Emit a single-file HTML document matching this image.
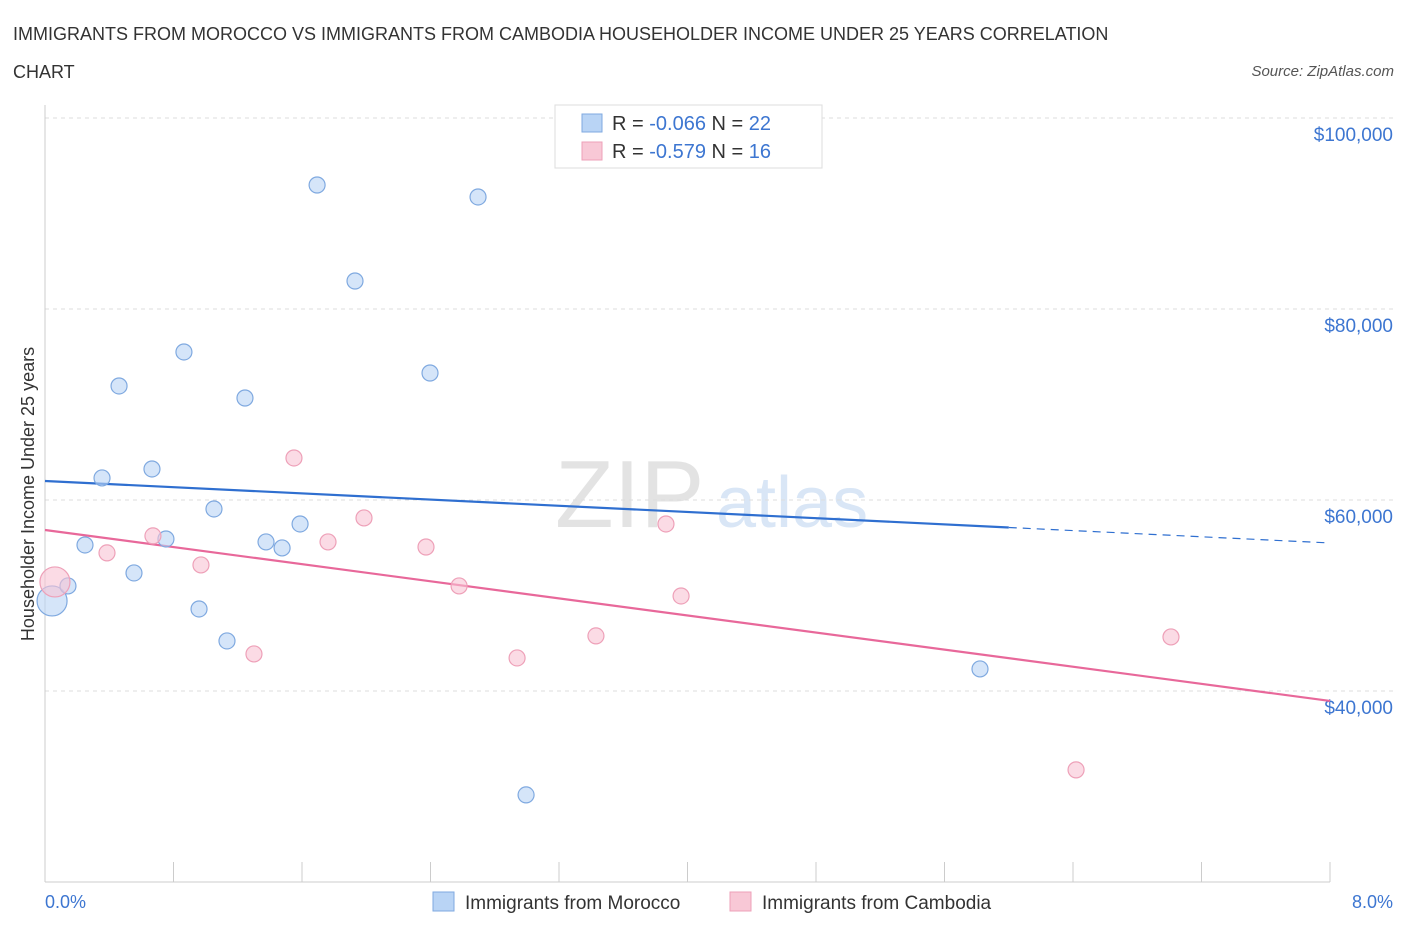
<!DOCTYPE html>
<html><head><meta charset="utf-8">
<style>
body{margin:0;background:#fff;font-family:"Liberation Sans",sans-serif;}
svg text{font-family:"Liberation Sans",sans-serif;}
</style></head>
<body>
<svg id="chart" width="1406" height="930" xmlns="http://www.w3.org/2000/svg">
<text x="13" y="40" font-size="18" fill="#333">IMMIGRANTS FROM MOROCCO VS IMMIGRANTS FROM CAMBODIA HOUSEHOLDER INCOME UNDER 25 YEARS CORRELATION</text>
<text x="13" y="78" font-size="18" fill="#333">CHART</text>
<text x="1394" y="76" font-size="15" font-style="italic" fill="#555" text-anchor="end">Source: ZipAtlas.com</text>
<text x="555" y="527" font-size="96" font-family="Liberation Serif" fill="#ddd" opacity="0.8">ZIP</text>
<text x="716" y="527" font-size="72" fill="#c9dcf3" opacity="0.7">atlas</text>
<g id="grid"></g>
<g id="axes"></g>
<g id="lines"></g>
<g id="points"></g>
<text transform="translate(34,494) rotate(-90)" font-size="18" fill="#333" text-anchor="middle">Householder Income Under 25 years</text>
<text x="45" y="908" font-size="18" fill="#3d76d1">0.0%</text>
<text x="1393" y="908" font-size="18" fill="#3d76d1" text-anchor="end">8.0%</text>
<g>
<rect x="555" y="105" width="267" height="63" fill="#fff" stroke="#ddd"/>
<rect x="582" y="114" width="20" height="18" fill="#b9d4f5" stroke="#7fa9e0"/>
<rect x="582" y="142" width="20" height="18" fill="#f8c8d6" stroke="#eea0b8"/>
<text x="612" y="130" font-size="20" fill="#333">R = <tspan fill="#3d76d1">-0.066</tspan>   N = <tspan fill="#3d76d1">22</tspan></text>
<text x="612" y="158" font-size="20" fill="#333">R =  <tspan fill="#3d76d1">-0.579</tspan>   N =  <tspan fill="#3d76d1">16</tspan></text>
</g>
<g>
<rect x="433" y="892" width="21" height="19" fill="#b9d4f5" stroke="#7fa9e0"/>
<text x="465" y="909" font-size="19" fill="#333">Immigrants from Morocco</text>
<rect x="730" y="892" width="21" height="19" fill="#f8c8d6" stroke="#eea0b8"/>
<text x="762" y="909" font-size="19" fill="#333">Immigrants from Cambodia</text>
</g>
</svg>
<script>
const yTicks=[40000,60000,80000,100000];
const yTickLabels=["$40,000","$60,000","$80,000","$100,000"];
const moroccoX=[0.044,0.143,0.249,0.355,0.461,0.554,0.666,0.753,0.865,0.959,1.052,1.133,1.245,1.376,1.476,1.588,1.694,1.930,2.397,2.696,2.995,5.821];
const moroccoY=[49430,51000,55290,62310,71940,52360,63250,55920,75500,48590,59060,45240,70680,55610,54980,57490,92985,82930,73300,91730,29120,42310];
const cambodiaX=[0.062,0.386,0.672,0.971,1.301,1.550,1.762,1.986,2.372,2.578,2.939,3.430,3.866,3.960,6.419,7.010];
const cambodiaY=[51420,54460,56240,53200,43880,64400,55610,58120,55080,51000,43460,45770,57490,49950,31740,45660];
const moroccoTrend=[61990,55500];
const cambodiaTrend=[56860,38960];
const NS="http://www.w3.org/2000/svg";
const X=v=>45+v/8*1285;
const Y=v=>118+(100000-v)/20000*191;
function mk(tag,attrs,parent){const e=document.createElementNS(NS,tag);for(const k in attrs)e.setAttribute(k,attrs[k]);document.getElementById(parent).appendChild(e);return e;}
yTicks.forEach((t,i)=>{
 const l=mk('line',{x1:45,x2:1393,y1:Y(t),y2:Y(t),stroke:'#ddd','stroke-dasharray':'4,4'},'grid');
 
 
 const tx=mk('text',{x:1393,y:Y(t)+23,'font-size':19,fill:'#3d76d1','text-anchor':'end'},'grid');
 tx.textContent=yTickLabels[i];
 
 
});
const ax=mk('line',{x1:45,x2:1330,y1:882,y2:882,stroke:'#ccc'},'axes');


const ay=mk('line',{x1:45,x2:45,y1:105,y2:882,stroke:'#ccc'},'axes');


for(let i=1;i<=10;i++){
 const t=mk('line',{x1:X(i*0.8),x2:X(i*0.8),y1:862,y2:882,stroke:'#ccc'},'axes');
 
 
}
const mt=v=>moroccoTrend[0]+(moroccoTrend[1]-moroccoTrend[0])*v/8;
const ct=v=>cambodiaTrend[0]+(cambodiaTrend[1]-cambodiaTrend[0])*v/8;
let l1=mk('line',{x1:X(0),y1:Y(mt(0)),x2:X(6.0),y2:Y(mt(6.0)),stroke:'#2f6fd0','stroke-width':2.2},'lines');


let l2=mk('line',{x1:X(6.0),y1:Y(mt(6.0)),x2:X(8),y2:Y(mt(8)),stroke:'#2f6fd0','stroke-width':1.2,'stroke-dasharray':'8,6'},'lines');


let l3=mk('line',{x1:X(0),y1:Y(ct(0)),x2:X(8),y2:Y(ct(8)),stroke:'#e8689a','stroke-width':2.2},'lines');


function pts(xs,ys,fill,stroke,name){
 xs.forEach((x,i)=>{
  const c=mk('circle',{cx:X(x),cy:Y(ys[i]),r:i===0?15:8,fill:fill,'fill-opacity':0.6,stroke:stroke,'stroke-width':1.2},'points');
  
  
 });
}
pts(moroccoX,moroccoY,'#b9d4f5','#7fa9e0','morocco-point');
pts(cambodiaX,cambodiaY,'#f8c3d3','#eea0b8','cambodia-point');
</script>
</body></html>
